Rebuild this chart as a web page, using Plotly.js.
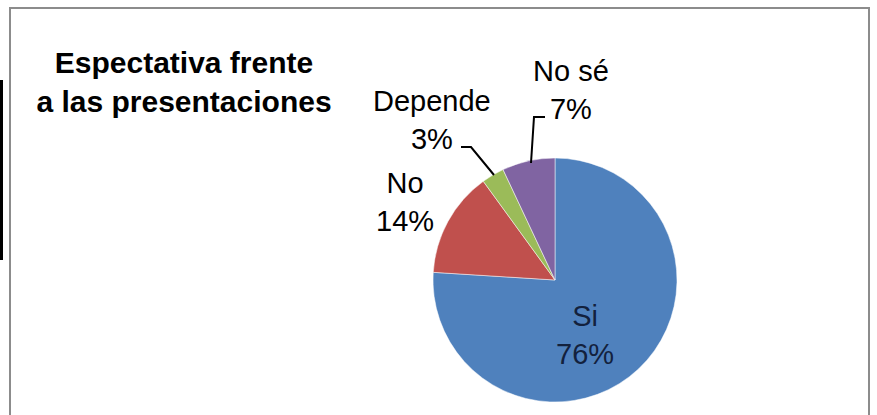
<!DOCTYPE html>
<html><head><meta charset="utf-8">
<script src="https://cdn.plot.ly/plotly-3.0.1.min.js"></script>
<style>html,body{margin:0;padding:0;background:#fff}#chart{width:877px;height:415px}</style>
</head><body><div id="chart"></div>
<script>
var categories = ["Si", "No", "Depende", "No sé"];
var values = [76, 14, 3, 7];
var colors = ["#4F81BD", "#C0504D", "#9BBB59", "#8064A2"];
var titleText = "Espectativa frente<br>a las presentaciones";

var W = 877, H = 415;
function px(x){ return x / W; }
function py(y){ return 1 - y / H; }

var total = values.reduce(function(a,b){return a+b;},0);
function pct(i){ return Math.round(values[i] / total * 100) + "%"; }

// label positions (pixel centres of the two-line labels)
var labelPos = [[585, 335], [405, 202], [432, 120], [571, 90]];
var annotations = categories.map(function(c, i){
  return {
    xref: "paper", yref: "paper", x: px(labelPos[i][0]), y: py(labelPos[i][1]),
    xanchor: "center", yanchor: "middle", showarrow: false,
    text: c + "<br>" + pct(i), align: "center",
    font: {family: "Liberation Sans, Arial, sans-serif", size: 29, color: i === 0 ? "#13213d" : "#000"}
  };
});

var shapes = [
  {type: "rect", xref: "paper", yref: "paper", x0: px(10), x1: px(869), y0: py(430), y1: py(8),
   line: {color: "#8c8c8c", width: 2}, fillcolor: "rgba(0,0,0,0)"},
  {type: "rect", xref: "paper", yref: "paper", x0: px(0), x1: px(3), y0: py(260), y1: py(80),
   line: {width: 0}, fillcolor: "#000"},
  {type: "path", xref: "paper", yref: "paper",
   path: "M " + px(461) + " " + py(147) + " L " + px(471) + " " + py(147) + " L " + px(494) + " " + py(175),
   line: {color: "#000", width: 2}},
  {type: "path", xref: "paper", yref: "paper",
   path: "M " + px(531) + " " + py(163) + " L " + px(534) + " " + py(117) + " L " + px(545) + " " + py(117),
   line: {color: "#000", width: 2}}
];

var trace = {
  type: "pie",
  labels: categories,
  values: values,
  marker: {colors: colors, line: {color: "#ffffff", width: 0.5}},
  sort: false,
  direction: "clockwise",
  rotation: 0,
  textinfo: "none",
  hoverinfo: "label+percent",
  showlegend: false,
  domain: {x: [px(433), px(677)], y: [py(402), py(158)]}
};

var layout = {
  width: W, height: H,
  margin: {l: 0, r: 0, t: 0, b: 0},
  paper_bgcolor: "#ffffff",
  title: {
    text: titleText,
    x: px(184), xanchor: "center", y: py(73), yanchor: "middle",
    font: {family: "Liberation Sans, Arial, sans-serif", size: 30, color: "#000", weight: "bold"}
  },
  annotations: annotations,
  shapes: shapes,
  showlegend: false
};

Plotly.newPlot("chart", [trace], layout, {displayModeBar: false, staticPlot: true});
</script></body></html>
